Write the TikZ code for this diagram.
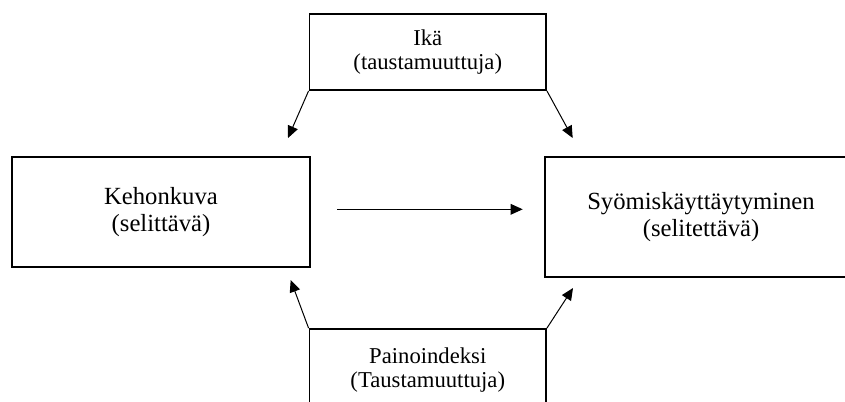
\documentclass[tikz,border=0pt]{standalone}
\usepackage{fontspec}
\setmainfont{Liberation Serif}
\usetikzlibrary{arrows.meta}
\begin{document}
\begin{tikzpicture}[x=0.75pt,y=0.75pt,yscale=-1,xscale=1,
  varbox/.style={draw, line width=1.4pt, align=center, inner sep=0pt},
  mainfont/.style={font=\fontsize{18.5}{20.25}\selectfont},
  sidefont/.style={font=\fontsize{17}{18}\selectfont},
  link/.style={line width=0.75pt, -{Triangle[length=9pt,width=8pt]}}]
%set diagram size 845 x 401
\clip (0,0) rectangle (845,401);

%Shape: Rectangle [top]
\node [varbox, sidefont, minimum width=177.4pt, minimum height=57pt] (ika) at (427.75,52) {Ikä\\(taustamuuttuja)};
%Shape: Rectangle [left]
\node [varbox, mainfont, minimum width=223.5pt, minimum height=82.5pt] (keho) at (161,211.7) {Kehonkuva\\(selittävä)};
%Shape: Rectangle [right]
\node [varbox, mainfont, minimum width=234pt, minimum height=90.5pt] (syom) at (701,217) {Syömiskäyttäytyminen\\(selitettävä)};
%Shape: Rectangle [bottom]
\node [varbox, sidefont, minimum width=177.4pt, minimum height=61.5pt] (paino) at (427.75,370) {Painoindeksi\\(Taustamuuttuja)};

% arrow ends
\coordinate (ikaL) at (288,138);
\coordinate (ikaR) at (572.7,138);
\coordinate (painoL) at (290.7,280);
\coordinate (painoR) at (573,288);
\coordinate (midA) at (337,209.3);
\coordinate (midB) at (522.7,209.3);

%Straight Lines
\draw [link] (ika.south west) -- (ikaL);
\draw [link] (ika.south east) -- (ikaR);
\draw [link] (paino.north west) -- (painoL);
\draw [link] (paino.north east) -- (painoR);
\draw [link] (midA) -- (midB);

\end{tikzpicture}
\end{document}
